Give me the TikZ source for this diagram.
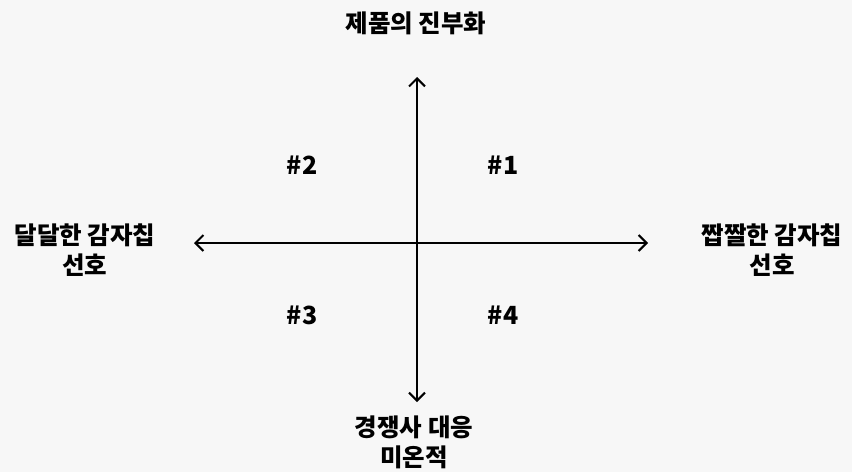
\documentclass[tikz,border=0pt]{standalone}
\usepackage{fontspec}
\setmainfont{Noto Sans CJK KR}
\usetikzlibrary{arrows.meta,positioning}
\definecolor{paper}{RGB}{247,247,247}

\begin{document}
\begin{tikzpicture}[
  x=1pt, y=-1pt,
  axis/.style={
    -{Straight Barb[length=8pt,width=16pt,line width=2pt]},
    line width=2.1pt,
    black
  },
  label/.style={
    font=\fontsize{24.5}{30}\selectfont\bfseries,
    align=center,
    inner sep=0pt
  },
  quad/.style={
    font=\fontsize{25}{28}\selectfont\bfseries,
    inner sep=0pt
  }
]

\fill[paper] (0,0) rectangle (852,472);
\useasboundingbox (0,0) rectangle (852,472);

% Axis labels
\node[label] (top) at (416,23) {제품의 진부화};
\node[label] (left) at (85,250) {달달한 감자칩\\선호};
\node[label] (right) at (772,250) {짭짤한 감자칩\\선호};
\node[label] (bottom) at (414,442) {경쟁사 대응\\미온적};

% Axes
\coordinate (o) at (417,243);
\coordinate (n) at (417,77);
\coordinate (s) at (417,402);
\coordinate (w) at (194,243);
\coordinate (e) at (648,243);

\draw[axis] (o) -- (n);
\draw[axis] (o) -- (s);
\draw[axis] (o) -- (w);
\draw[axis] (o) -- (e);

% Quadrants
\node[quad] (q1) at (503,165) {\#1};
\node[quad] (q2) at (302,165) {\#2};
\node[quad] (q3) at (302,315) {\#3};
\node[quad] (q4) at (503,315) {\#4};

\end{tikzpicture}
\end{document}
